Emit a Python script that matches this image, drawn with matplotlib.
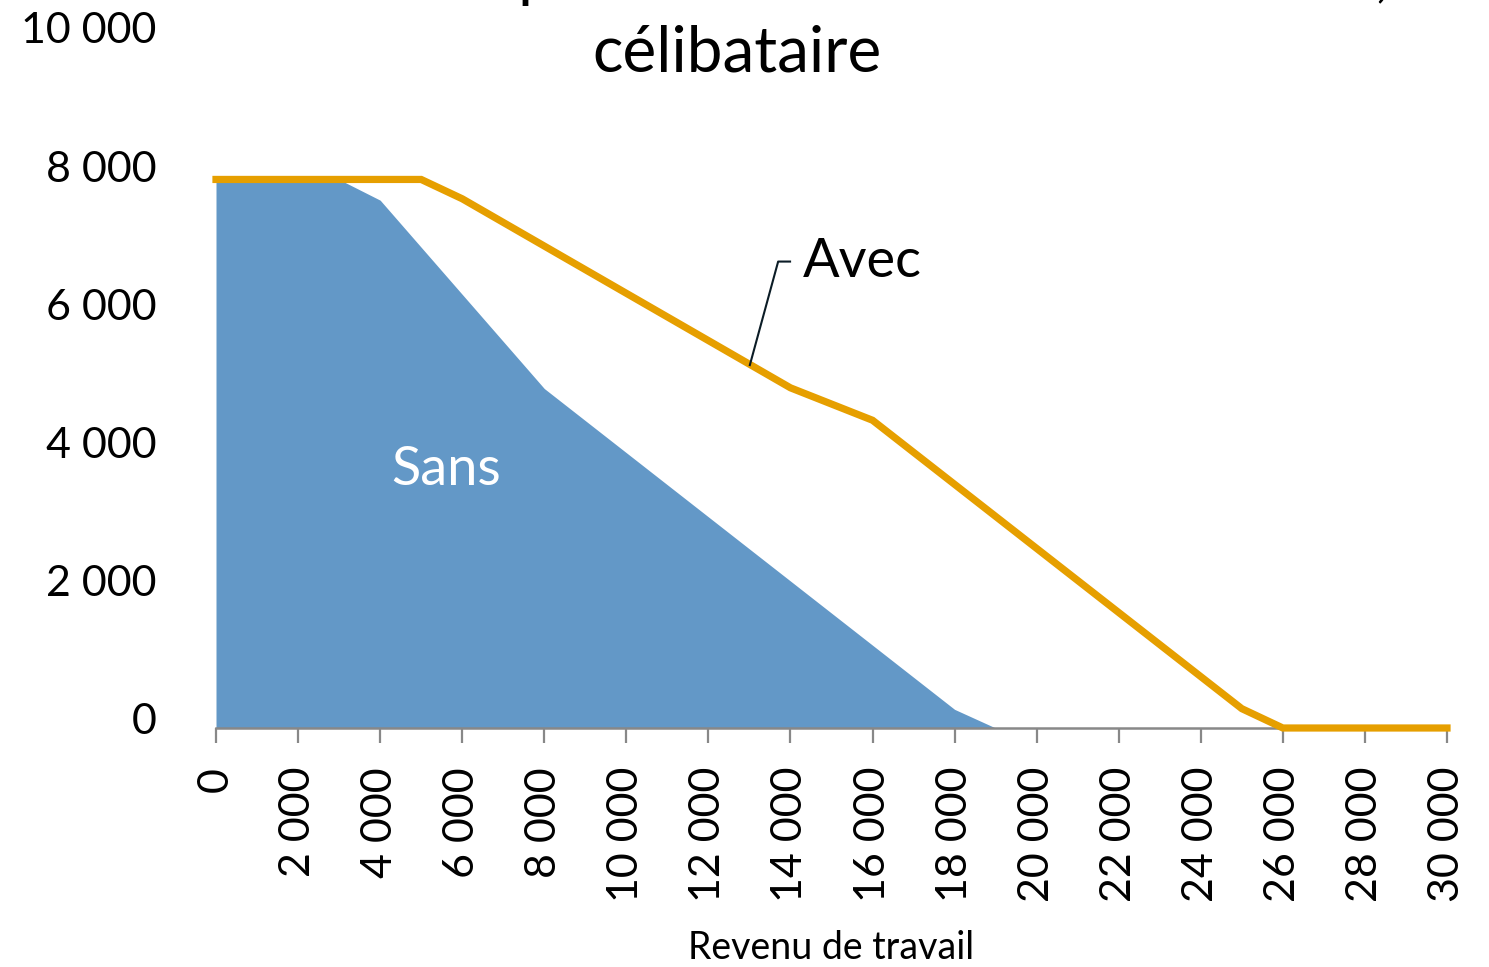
import matplotlib

matplotlib.use("Agg")
import matplotlib.pyplot as plt
import matplotlib.transforms as mtransforms
from matplotlib.ticker import FuncFormatter

# Revenu de travail (x) et montant (y)
revenu_sans = [0, 3000, 4000, 8000, 18000, 19000]
montant_sans = [7950, 7950, 7650, 4920, 270, 0]

revenu_avec = [0, 5000, 6000, 14000, 16000, 25000, 26000, 30000]
montant_avec = [7950, 7950, 7670, 4930, 4460, 280, 0, 0]

x_ticks = list(range(0, 30001, 2000))
y_ticks = list(range(0, 10001, 2000))

title_line1 = "Montant des prestations avec et sans bonus,"
title_line2 = "célibataire"

BLUE = "#6398c7"
ORANGE = "#e69f00"
GREY = "#888888"

plt.rcParams["font.family"] = ["Lato", "DejaVu Sans"]


def fmt_thousands(v, _pos):
    return f"{int(v):,}".replace(",", " ")


fig = plt.figure(figsize=(14.89, 9.67), dpi=100)
ax = fig.add_axes([216 / 1489, 1 - 728 / 967, (1447 - 216) / 1489, (728 - 38) / 967])

ax.fill_between(revenu_sans, 0, montant_sans, color=BLUE, lw=0, zorder=1)
ax.plot(revenu_avec, montant_avec, color=ORANGE, lw=5.2, solid_joinstyle="miter", zorder=3, clip_on=False)

ax.set_xlim(0, 30000)
ax.set_ylim(0, 10000)
ax.set_xticks(x_ticks)
ax.set_yticks(y_ticks)
ax.xaxis.set_major_formatter(FuncFormatter(fmt_thousands))
ax.yaxis.set_major_formatter(FuncFormatter(fmt_thousands))

for side in ("top", "right", "left"):
    ax.spines[side].set_visible(False)
ax.spines["bottom"].set_color(GREY)
ax.spines["bottom"].set_linewidth(1.8)

ax.tick_params(axis="x", direction="out", length=11, width=1.6, color=GREY,
               labelsize=31, pad=17, labelrotation=90)
ax.tick_params(axis="y", length=0, labelsize=31, pad=43)

# les étiquettes de l'axe y sont un peu au-dessus des graduations
shift_up = mtransforms.ScaledTranslation(0, 10 / 100, fig.dpi_scale_trans)
for lab in ax.get_yticklabels():
    lab.set_transform(lab.get_transform() + shift_up)

ax.set_xlabel("Revenu de travail", fontsize=27, labelpad=20)

# étiquettes des séries
ax.text(5600, 3740, "Sans", color="white", fontsize=39, ha="center", va="center")
ax.plot([13010, 13700, 13990], [5260, 6760, 6760], color="#0b1c26", lw=1.5, zorder=4)
ax.text(14300, 6760, "Avec", color="black", fontsize=39, ha="left", va="center")

fig.text(737 / 1489, 1 - 72 / 967, title_line2, fontsize=46, ha="center", va="baseline")
fig.text(1390 / 1489, 1 + 5 / 967, title_line1, fontsize=46, ha="right", va="baseline")

fig.savefig("out.png", dpi=100)
